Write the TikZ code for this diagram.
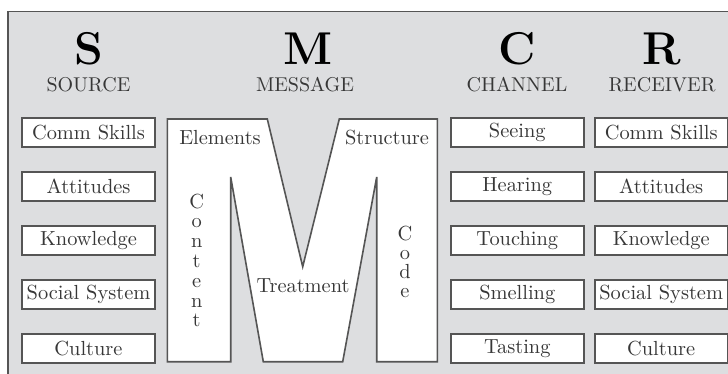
\documentclass[tikz,border=0pt]{standalone}
\usepackage{tikz}
\tikzstyle{every path}=[line width=0.8pt]
\definecolor{panelgray}{RGB}{221,222,224}
\definecolor{framegray}{RGB}{85,85,85}
\definecolor{inkgray}{RGB}{55,55,55}
\tikzstyle{itembox}=[draw=framegray, fill=white, minimum width=66.5pt, minimum height=14.5pt, inner sep=0pt, text=inkgray, font=\fontsize{10.2}{12}\selectfont]
\tikzstyle{bigletter}=[anchor=base, text=black, font=\fontsize{23}{26}\selectfont\bfseries]
\tikzstyle{headword}=[anchor=base, text=inkgray, font=\fontsize{10}{12}\selectfont]
\tikzstyle{mlabel}=[anchor=base, inner sep=0pt, text=inkgray, font=\fontsize{10.2}{12}\selectfont]

\begin{document}
\begin{tikzpicture}[x=0.5pt, y=-0.5pt]
    \useasboundingbox (0,0) rectangle (728,374);

    % panel
    \fill[panelgray] (8,11.5) rectangle (728,374);
    \draw[framegray] (728,11.5) -- (8,11.5) -- (8,374);

    % headings
    \node[bigletter] (S) at (88.5,65) {S};
    \node[headword] (source) at (88.5,92) {SOURCE};
    \node[bigletter] (M) at (308,65) {M};
    \node[headword] (message) at (305,92) {MESSAGE};
    \node[bigletter] (C) at (517,65) {C};
    \node[headword] (channel) at (517,92) {CHANNEL};
    \node[bigletter] (R) at (662,65) {R};
    \node[headword] (receiver) at (662,92) {RECEIVER};

    % source, channel and receiver columns
    \foreach \item [count=\i] in {Comm Skills, Attitudes, Knowledge, Social System, Culture}
        \node[itembox] (src\i) at (88.5, 78.5+54*\i) {\item};
    \foreach \item [count=\i] in {Seeing, Hearing, Touching, Smelling, Tasting}
        \node[itembox] (chn\i) at (517.3, 78.5+54*\i) {\item};
    \foreach \item [count=\i] in {Comm Skills, Attitudes, Knowledge, Social System, Culture}
        \node[itembox] (rcv\i) at (661.2, 78.5+54*\i) {\item};

    % the big M
    \draw[framegray, fill=white] (167.3,119) -- (267.3,119) -- (302.7,266.7)
        -- (339.3,119) -- (437.3,119) -- (437.3,361.7) -- (376.7,361.7)
        -- (376.7,177) -- (342.7,361.7) -- (263.3,361.7) -- (230.7,177)
        -- (230.7,361.7) -- (167.3,361.7) -- cycle;

    \node[mlabel] (elements) at (220,144) {Elements};
    \node[mlabel] (structure) at (387,144) {Structure};
    \node[mlabel] (treatment) at (303,292.7) {Treatment};
    \foreach \ch [count=\i from 0] in {C,o,n,t,e,n,t}
        \node[mlabel] (content\i) at (196.7, 208+19.8*\i) {\ch};
    \foreach \ch [count=\i from 0] in {C,o,d,e}
        \node[mlabel] (code\i) at (405, 240+19*\i) {\ch};
\end{tikzpicture}
\end{document}
